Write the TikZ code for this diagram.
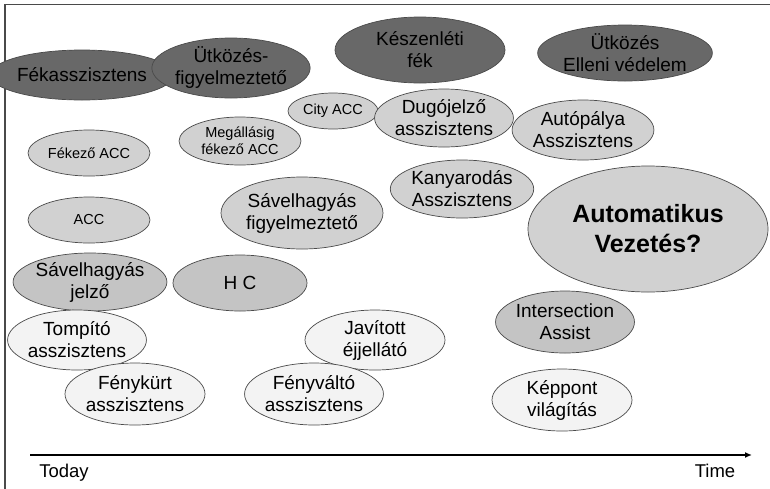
\documentclass[tikz,border=0pt]{standalone}
\usepackage{fontspec}
\setmainfont{Liberation Sans}
\usetikzlibrary{shapes.geometric,arrows.meta}
\definecolor{darkfill}{HTML}{686868}
\definecolor{midfill}{HTML}{C4C4C4}
\definecolor{lightfill}{HTML}{D1D1D1}
\definecolor{palefill}{HTML}{F3F3F3}
\definecolor{rim}{HTML}{4A4A4A}

\begin{document}
\begin{tikzpicture}[x=1pt,y=-1pt]
	\tikzstyle{blob}=[ellipse,draw=rim,line width=0.7pt,inner sep=0pt,align=center,font=\fontsize{19}{22}\selectfont]
	\tikzstyle{dark}=[blob,fill=darkfill]
	\tikzstyle{mid}=[blob,fill=midfill]
	\tikzstyle{light}=[blob,fill=lightfill]
	\tikzstyle{pale}=[blob,fill=palefill]
	\tikzstyle{small}=[font=\fontsize{14.5}{17}\selectfont]
	\tikzstyle{axislabel}=[anchor=base,font=\fontsize{18.5}{20}\selectfont]
	\useasboundingbox (0,0) rectangle (770,488);
	\draw[rim,line width=1.3pt] (5,490) -- (5,4.5) -- (772,4.5);
	% top row
	\node[dark,minimum width=148,minimum height=50](fekassz) at (82,75) {Fékasszisztens};
	\node[dark,minimum width=148,minimum height=60](utkfigy) at (231,68) {Ütközés-\\figyelmeztető};
	\node[dark,minimum width=170,minimum height=66](keszen) at (420,50) {Készenléti\\fék};
	\node[dark,minimum width=170,minimum height=56](utkelleni) at (625,53) {Ütközés\\Elleni védelem};
	% light grey
	\node[light,small,minimum width=90,minimum height=36](cityacc) at (333,111) {City ACC};
	\node[light,minimum width=132,minimum height=58](dugo) at (444,118) {Dugójelző\\asszisztens};
	\node[light,minimum width=134,minimum height=60](autopalya) at (583,130) {Autópálya\\Asszisztens};
	\node[light,small,minimum width=122,minimum height=46](fekezoacc) at (89,153) {Fékező ACC};
	\node[light,small,minimum width=122,minimum height=48](megall) at (240,141) {Megállásig\\fékező ACC};
	\node[light,minimum width=134,minimum height=58](kanyar) at (462,189) {Kanyarodás\\Asszisztens};
	\node[light,small,minimum width=122,minimum height=46](acc) at (89,220) {ACC};
	\node[light,minimum width=162,minimum height=72](savfigy) at (302,213) {Sávelhagyás\\figyelmeztető};
	\node[light,minimum width=240,minimum height=126,font=\fontsize{25}{30}\selectfont\bfseries](auto) at (648,229) {Automatikus\\Vezetés?};
	% mid grey
	\node[mid,minimum width=134,minimum height=58](savjelzo) at (90,282) {Sávelhagyás\\jelző};
	\node[mid,minimum width=134,minimum height=56](hc) at (240,283) {H C};
	\node[mid,minimum width=134,minimum height=62](intersect) at (565,322) {Intersection\\Assist};
	% pale
	\node[pale,minimum width=138,minimum height=60](tompito) at (77,340) {Tompító\\asszisztens};
	\node[pale,minimum width=140,minimum height=62](fenykurt) at (135,394) {Fénykürt\\asszisztens};
	\node[pale,minimum width=140,minimum height=60](javitott) at (375,340) {Javított\\éjjellátó};
	\node[pale,minimum width=138,minimum height=62](fenyvalto) at (314,394) {Fényváltó\\asszisztens};
	\node[pale,minimum width=140,minimum height=62](keppont) at (562,400) {Képpont\\világítás};
	% time axis
	\coordinate (ax0) at (30,455);
	\coordinate (ax1) at (752,455);
	\draw[line width=1.6pt,-{Latex[length=7pt,width=6pt]}] (ax0) -- (ax1);
	\node[axislabel](today) at (64,477) {Today};
	\node[axislabel](time) at (715,477) {Time};
\end{tikzpicture}
\end{document}
